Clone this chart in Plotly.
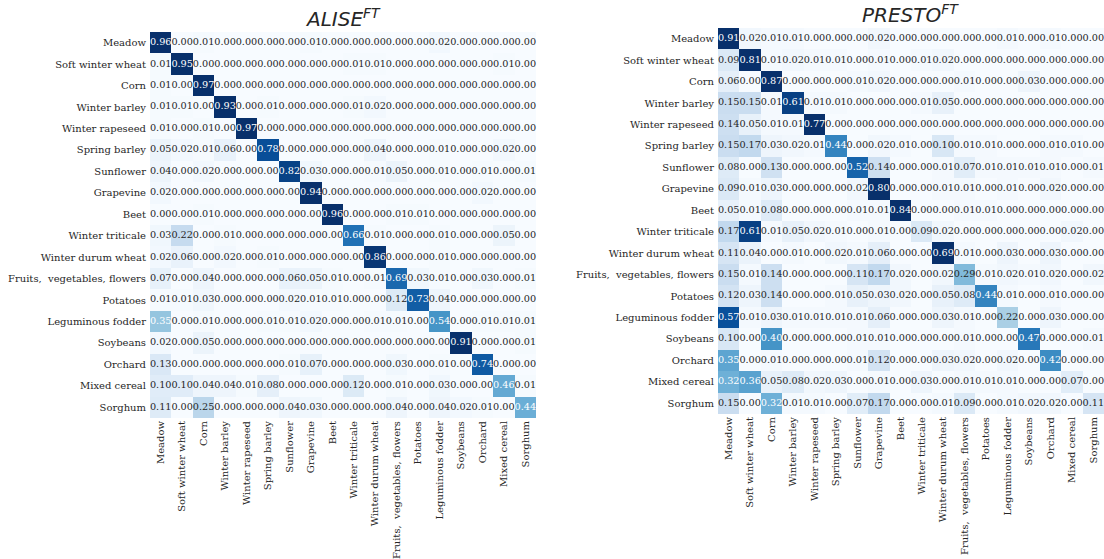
import plotly.graph_objects as go

# Crop classes (rows = true class, columns = predicted class)
classes = [
    "Meadow", "Soft winter wheat", "Corn", "Winter barley", "Winter rapeseed",
    "Spring barley", "Sunflower", "Grapevine", "Beet", "Winter triticale",
    "Winter durum wheat", "Fruits,\u00a0 vegetables, flowers", "Potatoes",
    "Leguminous fodder", "Soybeans", "Orchard", "Mixed cereal", "Sorghum",
]

# Normalised confusion matrix, ALISE fine-tuned
alise_ft = [
    [0.96, 0.00, 0.01, 0.00, 0.00, 0.00, 0.00, 0.01, 0.00, 0.00, 0.00, 0.00, 0.00, 0.02, 0.00, 0.00, 0.00, 0.00],
    [0.01, 0.95, 0.00, 0.00, 0.00, 0.00, 0.00, 0.00, 0.00, 0.01, 0.01, 0.00, 0.00, 0.00, 0.00, 0.00, 0.01, 0.00],
    [0.01, 0.00, 0.97, 0.00, 0.00, 0.00, 0.00, 0.00, 0.00, 0.00, 0.00, 0.00, 0.00, 0.00, 0.00, 0.00, 0.00, 0.00],
    [0.01, 0.01, 0.00, 0.93, 0.00, 0.01, 0.00, 0.00, 0.00, 0.01, 0.02, 0.00, 0.00, 0.00, 0.00, 0.00, 0.00, 0.00],
    [0.01, 0.00, 0.01, 0.00, 0.97, 0.00, 0.00, 0.00, 0.00, 0.00, 0.00, 0.00, 0.00, 0.00, 0.00, 0.00, 0.00, 0.00],
    [0.05, 0.02, 0.01, 0.06, 0.00, 0.78, 0.00, 0.00, 0.00, 0.00, 0.04, 0.00, 0.00, 0.01, 0.00, 0.00, 0.02, 0.00],
    [0.04, 0.00, 0.02, 0.00, 0.00, 0.00, 0.82, 0.03, 0.00, 0.00, 0.01, 0.05, 0.00, 0.01, 0.00, 0.01, 0.00, 0.01],
    [0.02, 0.00, 0.00, 0.00, 0.00, 0.00, 0.00, 0.94, 0.00, 0.00, 0.00, 0.00, 0.00, 0.00, 0.00, 0.02, 0.00, 0.00],
    [0.00, 0.00, 0.01, 0.00, 0.00, 0.00, 0.00, 0.00, 0.96, 0.00, 0.00, 0.01, 0.01, 0.00, 0.00, 0.00, 0.00, 0.00],
    [0.03, 0.22, 0.00, 0.01, 0.00, 0.00, 0.00, 0.00, 0.00, 0.66, 0.01, 0.00, 0.00, 0.01, 0.00, 0.00, 0.05, 0.00],
    [0.02, 0.06, 0.00, 0.02, 0.00, 0.01, 0.00, 0.00, 0.00, 0.00, 0.86, 0.00, 0.00, 0.01, 0.00, 0.00, 0.00, 0.00],
    [0.07, 0.00, 0.04, 0.00, 0.00, 0.00, 0.06, 0.05, 0.01, 0.00, 0.01, 0.69, 0.03, 0.01, 0.00, 0.03, 0.00, 0.01],
    [0.01, 0.01, 0.03, 0.00, 0.00, 0.00, 0.02, 0.01, 0.01, 0.00, 0.00, 0.12, 0.73, 0.04, 0.00, 0.00, 0.00, 0.00],
    [0.35, 0.00, 0.01, 0.00, 0.00, 0.01, 0.01, 0.02, 0.00, 0.00, 0.01, 0.01, 0.00, 0.54, 0.00, 0.01, 0.01, 0.01],
    [0.02, 0.00, 0.05, 0.00, 0.00, 0.00, 0.00, 0.00, 0.00, 0.00, 0.00, 0.00, 0.00, 0.00, 0.91, 0.00, 0.00, 0.01],
    [0.13, 0.00, 0.00, 0.00, 0.00, 0.00, 0.01, 0.07, 0.00, 0.00, 0.00, 0.03, 0.00, 0.01, 0.00, 0.74, 0.00, 0.00],
    [0.10, 0.10, 0.04, 0.04, 0.01, 0.08, 0.00, 0.00, 0.00, 0.12, 0.00, 0.01, 0.00, 0.03, 0.00, 0.00, 0.46, 0.01],
    [0.11, 0.00, 0.25, 0.00, 0.00, 0.00, 0.04, 0.03, 0.00, 0.00, 0.00, 0.04, 0.00, 0.04, 0.02, 0.01, 0.00, 0.44],
]

# Normalised confusion matrix, PRESTO fine-tuned
presto_ft = [
    [0.91, 0.02, 0.01, 0.01, 0.00, 0.00, 0.00, 0.02, 0.00, 0.00, 0.00, 0.00, 0.00, 0.01, 0.00, 0.01, 0.00, 0.00],
    [0.09, 0.81, 0.01, 0.02, 0.01, 0.01, 0.00, 0.01, 0.00, 0.01, 0.02, 0.00, 0.00, 0.00, 0.00, 0.00, 0.00, 0.00],
    [0.06, 0.00, 0.87, 0.00, 0.00, 0.00, 0.01, 0.02, 0.00, 0.00, 0.00, 0.01, 0.00, 0.00, 0.03, 0.00, 0.00, 0.00],
    [0.15, 0.15, 0.01, 0.61, 0.01, 0.01, 0.00, 0.00, 0.00, 0.01, 0.05, 0.00, 0.00, 0.00, 0.00, 0.00, 0.00, 0.00],
    [0.14, 0.05, 0.01, 0.01, 0.77, 0.00, 0.00, 0.00, 0.00, 0.00, 0.00, 0.00, 0.00, 0.00, 0.00, 0.00, 0.00, 0.00],
    [0.15, 0.17, 0.03, 0.02, 0.01, 0.44, 0.00, 0.02, 0.01, 0.00, 0.10, 0.01, 0.01, 0.00, 0.00, 0.01, 0.01, 0.00],
    [0.08, 0.00, 0.13, 0.00, 0.00, 0.00, 0.52, 0.14, 0.00, 0.00, 0.01, 0.07, 0.01, 0.01, 0.01, 0.01, 0.00, 0.01],
    [0.09, 0.01, 0.03, 0.00, 0.00, 0.00, 0.02, 0.80, 0.00, 0.00, 0.01, 0.01, 0.00, 0.01, 0.00, 0.02, 0.00, 0.00],
    [0.05, 0.01, 0.08, 0.00, 0.00, 0.00, 0.01, 0.01, 0.84, 0.00, 0.00, 0.01, 0.01, 0.00, 0.00, 0.00, 0.00, 0.00],
    [0.17, 0.61, 0.01, 0.05, 0.02, 0.01, 0.00, 0.01, 0.00, 0.09, 0.02, 0.00, 0.00, 0.00, 0.00, 0.00, 0.02, 0.00],
    [0.11, 0.04, 0.00, 0.01, 0.00, 0.02, 0.01, 0.06, 0.00, 0.00, 0.69, 0.01, 0.00, 0.03, 0.00, 0.03, 0.00, 0.00],
    [0.15, 0.01, 0.14, 0.00, 0.00, 0.00, 0.11, 0.17, 0.02, 0.00, 0.02, 0.29, 0.01, 0.02, 0.01, 0.02, 0.00, 0.02],
    [0.12, 0.03, 0.14, 0.00, 0.00, 0.01, 0.05, 0.03, 0.02, 0.00, 0.05, 0.08, 0.44, 0.01, 0.00, 0.01, 0.00, 0.00],
    [0.57, 0.01, 0.03, 0.01, 0.01, 0.01, 0.01, 0.06, 0.00, 0.00, 0.03, 0.01, 0.00, 0.22, 0.00, 0.03, 0.00, 0.00],
    [0.10, 0.00, 0.40, 0.00, 0.00, 0.00, 0.01, 0.01, 0.00, 0.00, 0.00, 0.01, 0.00, 0.00, 0.47, 0.00, 0.00, 0.01],
    [0.35, 0.00, 0.01, 0.00, 0.00, 0.00, 0.01, 0.12, 0.00, 0.00, 0.03, 0.02, 0.00, 0.02, 0.00, 0.42, 0.00, 0.00],
    [0.32, 0.36, 0.05, 0.08, 0.02, 0.03, 0.00, 0.01, 0.00, 0.03, 0.00, 0.01, 0.01, 0.01, 0.00, 0.00, 0.07, 0.00],
    [0.15, 0.00, 0.32, 0.01, 0.01, 0.00, 0.07, 0.17, 0.00, 0.00, 0.01, 0.09, 0.00, 0.01, 0.02, 0.02, 0.00, 0.11],
]

BLUES = ["#f7fbff", "#deebf7", "#c6dbef", "#9ecae1", "#6baed6",
         "#4292c6", "#2171b5", "#08519c", "#08306b"]
colorscale = [[i / (len(BLUES) - 1), c] for i, c in enumerate(BLUES)]

SERIF = "DejaVu Serif"
W, H = 1104, 559
N = len(classes)


def px_x(p):
    return p / W


def px_y(p):
    return 1 - p / H


panels = [
    # (matrix, title, x-axis id, y-axis id, colour ceiling, left, right, top, bottom px)
    (alise_ft, "<i>ALISE</i><sup><i>FT</i></sup>", "x", "y", 0.88, 150, 536, 32, 418),
    (presto_ft, "<i>PRESTO</i><sup><i>FT</i></sup>", "x2", "y2", 0.65, 718, 1104, 28, 414),
]

fig = go.Figure()
layout_axes = {}
annotations = []

for idx, (mat, title, xa, ya, zmax, l, r, t, b) in enumerate(panels):
    fig.add_trace(go.Heatmap(
        z=mat, x=classes, y=classes,
        colorscale=colorscale, zmin=0, zmax=zmax,
        showscale=False, xaxis=xa, yaxis=ya, hoverinfo="skip",
    ))
    xs, ys, txt, cols = [], [], [], []
    for i, row in enumerate(mat):
        for j, v in enumerate(row):
            xs.append(classes[j])
            ys.append(classes[i])
            txt.append(f"{v:.2f}")
            cols.append("white" if v >= 0.3 else "#262626")
    fig.add_trace(go.Scatter(
        x=xs, y=ys, text=txt, mode="text",
        textfont=dict(family=SERIF, size=9.7, color=cols),
        xaxis=xa, yaxis=ya, hoverinfo="skip", showlegend=False,
        cliponaxis=False,
    ))
    suffix = "" if idx == 0 else "2"
    layout_axes["xaxis" + suffix] = dict(
        domain=[px_x(l), px_x(r)], anchor=ya, tickangle=-90,
        range=[-0.5, N - 0.5], autorange=False, ticklabelstandoff=0,
        showgrid=False, zeroline=False, ticks="", showline=False,
        tickfont=dict(family=SERIF, size=10, color="#262626"),
        automargin=False, categoryorder="array", categoryarray=classes,
    )
    layout_axes["yaxis" + suffix] = dict(
        domain=[px_y(b), px_y(t)], anchor=xa,
        range=[N - 0.5, -0.5], autorange=False, ticklabelstandoff=3,
        showgrid=False, zeroline=False, ticks="", showline=False,
        tickfont=dict(family=SERIF, size=10, color="#262626"),
        automargin=False, categoryorder="array", categoryarray=classes,
    )
    annotations.append(dict(
        text=title, x=(px_x(l) + px_x(r)) / 2, y=px_y(t),
        xref="paper", yref="paper", xanchor="center", yanchor="bottom",
        showarrow=False, yshift=-1,
        font=dict(family="DejaVu Sans", size=20, color="#262626"),
    ))

fig.update_layout(
    width=W, height=H,
    margin=dict(l=0, r=0, t=0, b=0),
    paper_bgcolor="white", plot_bgcolor="white",
    showlegend=False, annotations=annotations,
    **layout_axes,
)

fig.write_html("out.html")
